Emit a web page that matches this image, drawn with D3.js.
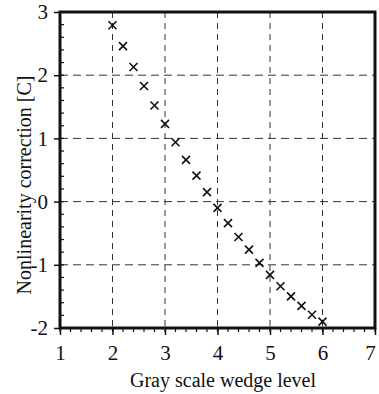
<!DOCTYPE html>
<html>
<head>
<meta charset="utf-8">
<script src="https://cdn.jsdelivr.net/npm/d3@7"></script>
<style>
  body { margin: 0; background: #fff; }
  text { font-family: "Liberation Serif", "DejaVu Serif", serif; fill: #111; }
</style>
</head>
<body>
<div id="chart"></div>
<script>
/*global d3*/

// wedge level and correction
var levels = [2.0, 2.2, 2.4, 2.6, 2.8, 3.0, 3.2, 3.4, 3.6, 3.8, 4.0,
              4.2, 4.4, 4.6, 4.8, 5.0, 5.2, 5.4, 5.6, 5.8, 6.0];
var corrections = [2.79, 2.46, 2.13, 1.83, 1.52, 1.23, 0.94, 0.66, 0.41, 0.15, -0.10,
                   -0.34, -0.56, -0.76, -0.97, -1.16, -1.34, -1.50, -1.65, -1.79, -1.90];
var xTicks = [1, 2, 3, 4, 5, 6, 7];
var yTicks = [-2, -1, 0, 1, 2, 3];

var width = 379, height = 394,
    margin = {top: 12, right: 4, bottom: 66, left: 60};

var svg = d3.select("#chart").append("svg")
  .attr("width", width)
  .attr("height", height);

var x = d3.scaleLinear().domain([1, 7]).range([margin.left, width - margin.right]);
var y = d3.scaleLinear().domain([-2, 3]).range([height - margin.bottom, margin.top]);

// dashed grid
svg.append("g").selectAll("line")
  .data(xTicks.slice(1, -1))
  .enter().append("line")
  .attr("x1", function(d){ return x(d); })
  .attr("x2", function(d){ return x(d); })
  .attr("y1", y(3))
  .attr("y2", y(-2))
  .style("stroke", "#333")
  .style("stroke-width", 1)
  .style("stroke-dasharray", "6,5");

svg.append("g").selectAll("line")
  .data(yTicks.slice(1, -1))
  .enter().append("line")
  .attr("x1", x(1))
  .attr("x2", x(7))
  .attr("y1", function(d){ return y(d); })
  .attr("y2", function(d){ return y(d); })
  .style("stroke", "#333")
  .style("stroke-width", 1)
  .style("stroke-dasharray", "8,5");

// minor ticks
var xMinor = d3.range(1, 7.001, 0.2);
var yMinor = d3.range(-2, 3.001, 0.2);

svg.append("g").selectAll("line")
  .data(xMinor)
  .enter().append("line")
  .attr("x1", function(d){ return x(d); })
  .attr("x2", function(d){ return x(d); })
  .attr("y1", y(-2))
  .attr("y2", y(-2) + 4)
  .style("stroke", "#111")
  .style("stroke-width", 1.2);

svg.append("g").selectAll("line")
  .data(yMinor)
  .enter().append("line")
  .attr("x1", x(1))
  .attr("x2", x(1) + 4)
  .attr("y1", function(d){ return y(d); })
  .attr("y2", function(d){ return y(d); })
  .style("stroke", "#111")
  .style("stroke-width", 1.2);

// axes with major ticks
var plain = function(d){ return String(d); };
var xAxis = svg.append("g")
  .attr("transform", "translate(0," + y(-2) + ")")
  .call(d3.axisBottom(x).tickValues(xTicks).tickSize(7).tickPadding(10).tickFormat(plain));

var yAxis = svg.append("g")
  .attr("transform", "translate(" + x(1) + ",0)")
  .call(d3.axisLeft(y).tickValues(yTicks).tickSize(6).tickPadding(6).tickFormat(plain));

[xAxis, yAxis].forEach(function(a){
  a.select(".domain").remove();
  a.selectAll(".tick line").style("stroke", "#111").style("stroke-width", 1.5);
  a.selectAll(".tick text").style("font-size", "21px").style("font-family", "Liberation Serif").style("fill", "#111");
});

// last label sits on the page edge, nudge it in
xAxis.selectAll(".tick text").filter(function(d){ return d === 7; }).attr("dx", -5);

// frame
svg.append("rect")
  .attr("x", x(1))
  .attr("y", y(3))
  .attr("width", x(7) - x(1))
  .attr("height", y(-2) - y(3))
  .style("fill", "none")
  .style("stroke", "#111")
  .style("stroke-width", 3);

// cross markers
var s = 4;
var pts = levels.map(function(l, i){ return {lvl: l, val: corrections[i]}; });
svg.append("g").selectAll("path")
  .data(pts)
  .enter().append("path")
  .attr("d", function(d){
    var cx = x(d.lvl), cy = y(d.val);
    return "M" + (cx - s) + "," + (cy - s) + "L" + (cx + s) + "," + (cy + s) +
           "M" + (cx - s) + "," + (cy + s) + "L" + (cx + s) + "," + (cy - s);
  })
  .style("stroke", "#111")
  .style("stroke-width", 1.6)
  .style("fill", "none");

// axis titles
svg.append("text")
  .attr("x", 223)
  .attr("y", 387)
  .attr("text-anchor", "middle")
  .style("font-size", "20px")
  .text("Gray scale wedge level");

svg.append("text")
  .attr("transform", "translate(31,185) rotate(-90)")
  .attr("text-anchor", "middle")
  .style("font-size", "20px")
  .text("Nonlinearity correction [C]");
</script>
</body>
</html>
